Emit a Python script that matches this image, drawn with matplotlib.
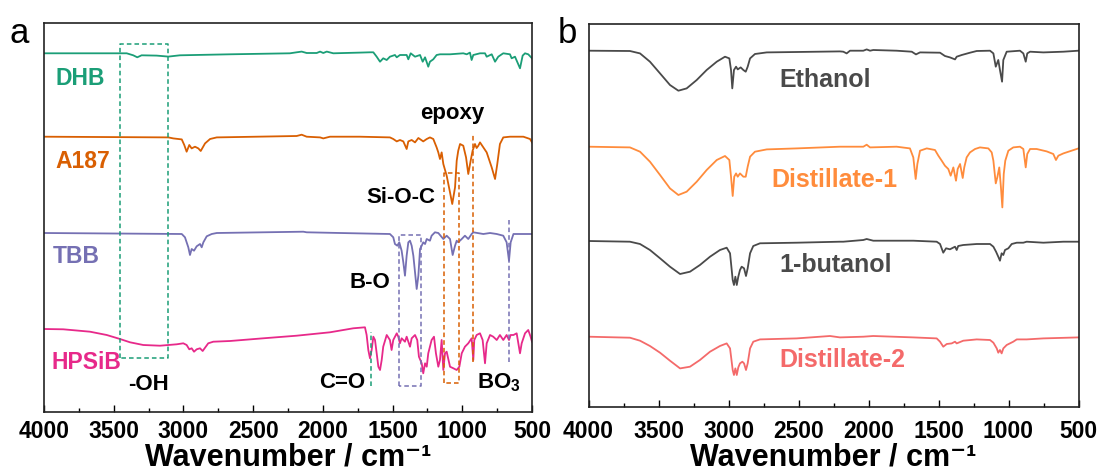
import matplotlib
matplotlib.use('Agg')
import matplotlib.pyplot as plt
import numpy as np

plt.rcParams['font.family'] = ['Liberation Sans', 'DejaVu Sans']
plt.rcParams['mathtext.fontset'] = 'custom'
plt.rcParams['mathtext.rm'] = 'Liberation Sans:bold'
plt.rcParams['mathtext.bf'] = 'Liberation Sans:bold'
plt.rcParams['mathtext.it'] = 'Liberation Sans:bold'

# ---------------- data (wavenumber, relative transmittance, a.u.) ----------------
DHB = [(4000, 0), (3407, 0), (3360, -2), (3331, -4), (3300, -2), (3192, -2.3), (3108, -3.3),
       (3025, -2), (2666, -1), (2236, 0), (2188, 1), (2152, 1.7), (2116, 0.3), (2044, 0.3),
       (2020, 1.7), (1997, 0.3), (1972, 1.7), (1925, 0), (1734, 0.7), (1662, 1), (1638, 1),
       (1614, -3.4), (1590, -8.4), (1567, -5), (1542, -6.7), (1519, -3.4), (1483, -1.7),
       (1470, -4), (1447, -1.7), (1399, -1.7), (1387, -6), (1370, 0), (1339, -3.4),
       (1303, -1.7), (1284, -8.4), (1267, -4), (1244, -13.4), (1232, -8.4), (1208, -6),
       (1184, -1.7), (1160, -1), (1088, -1), (993, 0), (968, -1), (945, 0.7), (933, -6.7),
       (921, -1.7), (873, 0), (837, 0), (825, -3.4), (789, -1), (765, -8.4), (742, -3.4),
       (717, -1), (706, 0), (658, -1), (646, -5), (622, -3.4), (586, -15), (567, -2.3),
       (550, 0), (527, -1), (500, -5)]

A187 = [(4000, 0), (3108, -0.7), (3073, -1.7), (3012, -2.7), (2994, -8.3), (2977, -15),
        (2958, -8.3), (2941, -11.7), (2917, -10), (2893, -11.7), (2876, -14.3), (2845, -6.7),
        (2809, -2.3), (2761, -0.7), (2188, 0.7), (2152, 2), (2116, 0), (2020, -0.7),
        (1997, -1.7), (1949, 0), (1734, 0), (1519, -0.7), (1495, -2.3), (1470, -4.7),
        (1447, -3.3), (1423, -4.7), (1399, -12.3), (1387, -4.7), (1363, -3.3), (1339, -5.7),
        (1315, -1.3), (1280, -4.7), (1255, -2.3), (1232, -0.7), (1208, -2.3), (1184, -10.7),
        (1172, -15.7), (1160, -22.3), (1148, -15.7), (1136, -27.3), (1112, -39), (1088, -55.7),
        (1072, -67.3), (1052, -50.7), (1040, -24), (1029, -14), (1016, -7.3), (993, -9),
        (973, -20.7), (957, -37.3), (940, -24), (926, -14), (909, -7.3), (897, -11.3),
        (885, -9), (873, -5.7), (849, -10.7), (825, -15.7), (789, -30.7), (765, -42.3),
        (749, -27.3), (730, -7.3), (706, -0.7), (658, 0), (562, 0), (514, -2.3), (500, -5.7)]

TBB = [(4000, 0), (3012, -1), (2989, -4.3), (2965, -14.3), (2953, -22), (2941, -16),
       (2924, -17.7), (2905, -13.3), (2881, -11), (2869, -14.3), (2857, -9.3), (2833, -3.3),
       (2797, -1), (2761, 0), (2140, 1.3), (2116, 0.7), (1877, 0), (1519, -1), (1495, -4.3),
       (1483, -11), (1466, -12.7), (1452, -9.3), (1435, -17.7), (1423, -29.3), (1411, -42.7),
       (1399, -22.7), (1387, -9.3), (1375, -7.7), (1363, -12.7), (1351, -22.7), (1339, -39.3),
       (1327, -56), (1315, -42.7), (1303, -16), (1291, -12.7), (1280, -9.3), (1267, -11),
       (1255, -6), (1232, -7.7), (1220, -2.7), (1196, 0.7), (1172, 0), (1136, -6),
       (1112, -2.7), (1088, -6), (1069, -22), (1052, -12.7), (1040, -7.7), (1029, -9.3),
       (1004, -6), (981, -2.7), (957, -6), (933, -1), (921, 0.7), (849, -1), (801, 0),
       (753, -1), (706, -2.7), (682, -9.3), (665, -27.7), (653, -9.3), (633, -1), (538, -1),
       (500, -1)]

HPSiB = [(4000, 0), (3862, -0.3), (3670, -2.7), (3550, -6), (3455, -10), (3383, -13.3),
         (3288, -16), (3168, -16.7), (3108, -16), (3048, -15.3), (3001, -14.3), (2977, -16),
         (2958, -20.3), (2941, -19.3), (2924, -22.7), (2905, -20.3), (2881, -19.3), (2862, -22),
         (2845, -18.7), (2822, -14.3), (2786, -12.7), (2666, -12), (2427, -9.3), (2188, -6.7),
         (1949, -3.3), (1782, 0.7), (1698, 1.7), (1686, -6), (1674, -21), (1662, -29.3),
         (1650, -21), (1638, -7.7), (1626, -11), (1614, -24.3), (1602, -37.7), (1590, -41),
         (1578, -31), (1567, -17.7), (1542, -6), (1519, -11), (1507, -21), (1495, -11),
         (1470, -4.3), (1459, -7.7), (1447, -14.3), (1435, -9.3), (1411, -12.7), (1399, -7.7),
         (1375, -17.7), (1363, -9.3), (1339, -6), (1323, -11), (1311, -27.7), (1291, -34.3),
         (1280, -44.3), (1267, -34.3), (1255, -37.7), (1244, -24.3), (1232, -17.7), (1220, -11),
         (1203, -7.7), (1189, -24.3), (1172, -37.7), (1160, -31), (1148, -11), (1136, -41),
         (1124, -24.3), (1112, -22.7), (1088, -37.7), (1064, -39.3), (1040, -41), (1021, -37.7),
         (1004, -24.3), (981, -17.7), (957, -14.3), (933, -9.3), (921, -31), (914, -11),
         (897, -6), (873, -4.3), (854, -11), (837, -34.3), (825, -14.3), (801, -6), (778, -7.7),
         (753, -11), (730, -6), (706, -11), (682, -6), (665, -11), (653, -6), (633, -6),
         (610, -4.3), (586, -24.3), (574, -14.3), (550, -4.3), (527, -1), (510, -7.7), (500, -12.7)]

ETHANOL = [(4000, 0), (3704, -0.3), (3632, -2.7), (3561, -11), (3489, -22.7), (3418, -34.3),
           (3358, -40), (3299, -37.7), (3227, -29.3), (3156, -19.3), (3084, -11), (3025, -6),
           (2994, -7.7), (2982, -19.3), (2973, -37.7), (2961, -19.3), (2946, -16), (2934, -18.7),
           (2913, -16.7), (2894, -19.3), (2877, -21), (2863, -16), (2846, -7.7), (2811, -3.3),
           (2727, -1.7), (2513, -1.3), (2204, -0.7), (2180, -1), (2156, -2.7), (2132, 0),
           (2037, 0), (2013, 1.3), (1989, 0), (1966, 0.7), (1799, 0), (1691, -1), (1661, -3.7),
           (1632, -1.7), (1489, -2), (1454, -5.3), (1418, -6.7), (1382, -8.7), (1370, -6),
           (1334, -4.3), (1275, -2), (1227, -0.3), (1132, 0), (1108, -2.7), (1091, -16),
           (1073, -9.3), (1061, -19.3), (1046, -31), (1037, -9.3), (1013, -1), (918, 0),
           (894, -2.7), (877, -11), (866, -2.7), (846, -1), (751, -1.7), (608, -1), (500, 0)]

DISTILLATE_1 = [(4000, 0), (3704, -0.7), (3632, -5), (3561, -15), (3489, -28.3), (3418, -41.7),
                (3358, -48.3), (3299, -45), (3227, -35), (3156, -23.3), (3084, -13.3),
                (3025, -9.3), (2994, -13.3), (2982, -30), (2970, -49.3), (2959, -30),
                (2946, -26.7), (2934, -30), (2918, -26.7), (2894, -30), (2877, -30), (2863, -20),
                (2846, -10), (2811, -5), (2727, -2.7), (2513, -1.7), (2204, 0), (2037, 0),
                (2013, 2), (1989, -0.7), (1799, 0), (1704, -1.7), (1680, -10.7), (1663, -32.3),
                (1651, -17.3), (1632, -4), (1584, -1.7), (1525, -3.3), (1501, -9), (1477, -14),
                (1454, -19), (1430, -22.3), (1413, -29), (1394, -20.7), (1375, -34),
                (1363, -22.3), (1346, -17.3), (1327, -31.3), (1316, -20.7), (1299, -10.7),
                (1275, -5.7), (1239, -2.3), (1204, -0.7), (1144, -1.7), (1120, -5.7), (1108, -14),
                (1091, -36.7), (1080, -30.7), (1066, -20.7), (1054, -40.7), (1044, -60.7),
                (1034, -27.3), (1023, -14), (1001, -4), (966, -0.7), (918, 0), (894, -2.3),
                (877, -20.7), (866, -7.3), (846, -2.3), (799, -2.3), (727, -4.7), (680, -7.3),
                (661, -13.3), (644, -9), (608, -6.7), (500, -1.7)]

BUTANOL = [(4000, 0), (3704, -0.7), (3632, -3), (3561, -9), (3489, -17.3), (3418, -25.7),
           (3346, -33), (3275, -30.7), (3204, -24), (3132, -15.7), (3061, -9), (3013, -6.7),
           (2989, -12.3), (2970, -39), (2961, -44), (2951, -35.7), (2941, -44), (2930, -35.7),
           (2918, -29), (2906, -25.7), (2889, -27.3), (2875, -35), (2863, -27.3), (2846, -12.3),
           (2823, -5), (2775, -2.3), (2513, -1.7), (2204, -0.7), (2180, -0.7), (2037, 1),
           (2013, 2), (1966, 0.3), (1680, 0.3), (1513, -0.7), (1489, -3), (1466, -11.7),
           (1446, -7.3), (1418, -8.3), (1382, -5.7), (1370, -9), (1359, -5), (1323, -4),
           (1227, -3), (1132, -3), (1108, -5.7), (1089, -10.7), (1073, -15.7), (1061, -19.7),
           (1049, -12.3), (1037, -14), (1025, -9), (1001, -7.3), (977, -3), (941, -1.7),
           (894, -1.7), (870, -0.7), (751, -1.7), (608, -0.7), (500, -0.7)]

DISTILLATE_2 = [(4000, 0), (3704, -1), (3632, -4), (3561, -9.3), (3489, -16), (3418, -24),
                (3346, -31.7), (3275, -30), (3204, -23.3), (3132, -15), (3061, -9.3),
                (3013, -6.7), (2989, -11.7), (2970, -33.3), (2961, -38.3), (2951, -31.7),
                (2941, -38.3), (2930, -30.7), (2918, -26.7), (2901, -25), (2889, -26.7),
                (2875, -33.3), (2863, -26.7), (2846, -11.7), (2823, -5), (2775, -2.7),
                (2513, -1.7), (2275, 0.7), (2204, -0.7), (2037, 0), (1966, 0.7), (1680, -0.7),
                (1513, -1.7), (1489, -5), (1466, -10), (1441, -7.3), (1406, -6.7), (1382, -5),
                (1370, -6.7), (1323, -4), (1227, -2.7), (1132, -3.3), (1108, -6), (1084, -11.7),
                (1073, -16), (1061, -13.3), (1049, -16.7), (1037, -11.7), (1013, -8.3),
                (966, -5), (941, -2.7), (870, -2.7), (751, -1.7), (500, -0.7)]

names_a = ['DHB', 'A187', 'TBB', 'HPSiB']
spectra_a = [DHB, A187, TBB, HPSiB]
offsets_a = [358.4, 275.0, 178.7, 82.7]
colors_a = ['#1b9e77', '#d95f02', '#7570b3', '#e7298a']

names_b = ['Ethanol', 'Distillate-1', '1-butanol', 'Distillate-2']
spectra_b = [ETHANOL, DISTILLATE_1, BUTANOL, DISTILLATE_2]
offsets_b = [356.0, 260.0, 165.7, 70.0]
colors_b = ['#4a4a4a', '#ff8c3c', '#4a4a4a', '#f46a6a']

major_ticks = [4000, 3500, 3000, 2500, 2000, 1500, 1000, 500]
minor_ticks = [3750, 3250, 2750, 2250, 1750, 1250, 750]
xlabel_text = 'Wavenumber / cm\u207b\u00b9'

# ---------------- figure ----------------
W, H = 1104, 471
fig = plt.figure(figsize=(W / 100, H / 100), dpi=100)
axa = fig.add_axes([44 / W, 1 - 411.7 / H, 488 / W, 388.4 / H])
axb = fig.add_axes([588.5 / W, 1 - 406.7 / H, 490 / W, 382.7 / H])


def draw(ax, spectra, offsets, colors):
    for sp, off, c in zip(spectra, offsets, colors):
        arr = np.array(sorted(sp, key=lambda p: -p[0]), dtype=float)
        ax.plot(arr[:, 0], arr[:, 1] + off, color=c, lw=1.3, solid_joinstyle='round')


draw(axa, spectra_a, offsets_a, colors_a)
draw(axb, spectra_b, offsets_b, colors_b)

for ax, ytop, pad, ylab in [(axa, 388.4, 6.0, (411.7 - 465) / 388.4),
                            (axb, 382.7, 9.5, (406.7 - 465) / 382.7)]:
    ax.set_xlim(4000, 500)
    ax.set_ylim(0, ytop)
    ax.set_yticks([])
    ax.set_xticks(major_ticks)
    ax.set_xticks(minor_ticks, minor=True)
    ax.set_xticklabels([str(t) for t in major_ticks], fontsize=16.5, fontweight='bold')
    ax.tick_params(axis='x', which='major', direction='in', length=5, width=1.0, pad=pad,
                   top=False)
    ax.tick_params(axis='x', which='minor', direction='in', length=3, width=1.0, top=False)
    for s in ax.spines.values():
        s.set_linewidth(1.2)
        s.set_color('#222222')
    ax.set_xlabel(xlabel_text, fontsize=22, fontweight='bold', va='baseline',
                  family=['Liberation Sans', 'DejaVu Sans'])
    ax.xaxis.set_label_coords(0.5, ylab)

# series labels
lab_a = [(3921, 326.7), (3921, 243.4), (3938, 149.0), (3945, 42.7)]
for name, (x, y), c in zip(names_a, lab_a, colors_a):
    axa.text(x, y, name, color=c, fontsize=16.5, fontweight='bold', ha='left', va='baseline')

lab_b = [(2307, 320.0), (2246, 220.0), (2232, 135.0), (2189, 40.0)]
for name, (x, y), c in zip(names_b, lab_b, colors_b):
    axb.text(x, y, name, color=c, fontsize=18, fontweight='bold', ha='center', va='baseline')

# annotation boxes / lines
dash = (0, (3, 2))


def box(x0, x1, y0, y1, c):
    axa.plot([x0, x0, x1, x1, x0], [y0, y1, y1, y0, y0], color=c, lw=1.1, ls=dash)


box(3455, 3109, 54.0, 367.7, colors_a[0])
box(1454, 1296, 26.0, 176.7, colors_a[2])
box(1129, 1024, 28.4, 238.4, colors_a[1])
axa.plot([1657, 1657], [25.7, 79.7], color=colors_a[0], lw=1.1, ls=dash)
axa.plot([663, 663], [50.0, 191.7], color=colors_a[2], lw=1.1, ls=dash)
axa.plot([921, 921], [50.0, 278.4], color=colors_a[1], lw=1.1, ls=dash)

ann = [('-OH', 3252, 21.7), ('C=O', 1863, 23.4), ('B-O', 1662, 123.4),
       ('Si-O-C', 1440, 208.4), ('epoxy', 1070, 292.4), (r'BO$_\mathbf{3}$', 737, 23.4)]
for t, x, y in ann:
    axa.text(x, y, t, color='black', fontsize=16, fontweight='bold', ha='center', va='baseline')

fig.text(19.6 / W, 1 - 43.3 / H, 'a', fontsize=25, ha='center', va='baseline')
fig.text(567 / W, 1 - 43.3 / H, 'b', fontsize=25, ha='center', va='baseline')

fig.savefig('out.png', dpi=100)
